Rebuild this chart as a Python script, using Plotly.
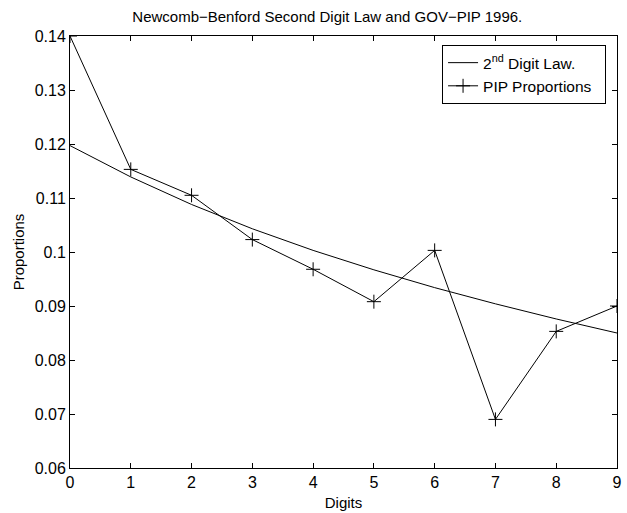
import plotly.graph_objects as go

digits = [0, 1, 2, 3, 4, 5, 6, 7, 8, 9]
law = [0.1197, 0.1139, 0.1088, 0.1043, 0.1003, 0.0967, 0.0934, 0.0904, 0.0876, 0.0850]
pip = [0.1400, 0.1153, 0.1105, 0.1023, 0.0968, 0.0908, 0.1003, 0.0690, 0.0853, 0.0900]

fig = go.Figure()
fig.add_trace(go.Scatter(x=digits, y=law, mode="lines", name="2<sup>nd</sup> Digit Law.",
                         line=dict(color="black", width=1)))
fig.add_trace(go.Scatter(x=digits, y=pip, mode="lines+markers", name="PIP Proportions\u00a0\u00a0",
                         line=dict(color="black", width=1),
                         marker=dict(symbol="cross-thin", size=10, line=dict(color="black", width=1))))

axis_common = dict(showgrid=False, zeroline=False, showline=True, linecolor="black", linewidth=1,
                   mirror="ticks", ticks="inside", ticklen=5, tickcolor="black", automargin=False,
                   tickfont=dict(family="Liberation Sans, Arial", size=16, color="black"))
fig.update_layout(
    width=627, height=513,
    margin=dict(l=70, r=10, t=36, b=45),
    paper_bgcolor="white", plot_bgcolor="white",
    font=dict(family="Liberation Sans, Arial", color="black"),
    title=dict(text="Newcomb\u2212Benford Second Digit Law and GOV\u2212PIP 1996.",
               x=0.522, xanchor="center", y=0.967, yanchor="middle",
               font=dict(size=15, color="black")),
    xaxis=dict(range=[0, 9], tickvals=digits, title=dict(text="Digits", standoff=7,
               font=dict(size=15)), **axis_common),
    yaxis=dict(range=[0.06, 0.14], dtick=0.01, tickformat="~g",
               title=dict(text="Proportions", standoff=6, font=dict(size=15)), **axis_common),
    showlegend=True,
    legend=dict(x=0.98, y=0.979, xanchor="right", yanchor="top",
                bgcolor="white", bordercolor="black", borderwidth=1,
                font=dict(size=15.5, color="black"), tracegroupgap=0),
)
fig.write_html("out.html", config={"displayModeBar": False},
               post_script="document.body.style.margin='0';")
